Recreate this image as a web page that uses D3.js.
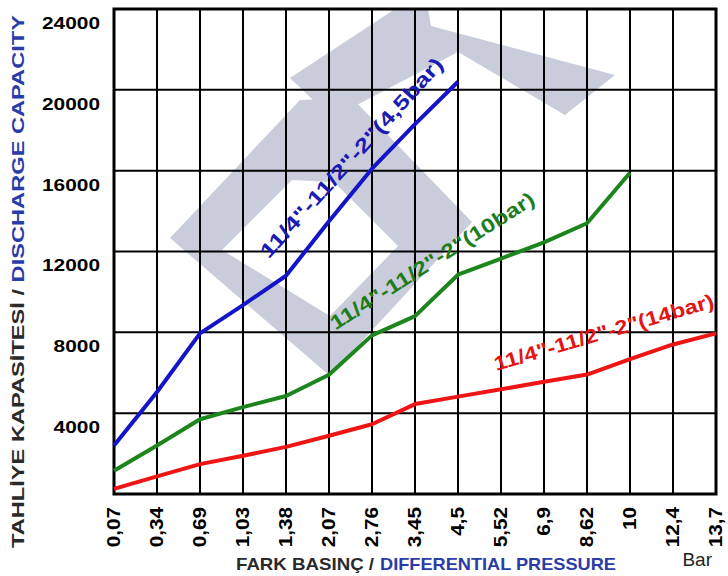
<!DOCTYPE html>
<html>
<head>
<meta charset="utf-8">
<script src="https://cdn.jsdelivr.net/npm/d3@7"></script>
<style>
  body { margin: 0; background: #fff; }
  svg { display: block; font-family: "Liberation Sans", Arial, sans-serif; }
</style>
</head>
<body>
<div id="chart"></div>
<script>
'use strict'

// pressure categories on the x axis (bar)
let pressureLbl = ['0,07','0,34','0,69','1,03','1,38','2,07','2,76','3,45','4,5','5,52','6,9','8,62','10','12,4','13,7'];
let capTicks = [4000, 8000, 12000, 16000, 20000, 24000];

// discharge capacity per series
let cap45 = [2400, 5050, 7950, 9350, 10800, 13500, 16100, 18300, 20400];
let cap10 = [1150, 2400, 3700, 4300, 4850, 5900, 7850, 8800, 10850, 11650, 12450, 13400, 15900];
let cap14 = [250, 870, 1480, 1890, 2330, 2880, 3450, 4450, 4820, 5180, 5550, 5910, 6680, 7400, 7950];

let seriesName = ['11/4"-11/2"-2"(4,5bar)', '11/4"-11/2"-2"(10bar)', '11/4"-11/2"-2"(14bar)'];
let seriesColor = ['#1414c8', '#1c861c', '#ee1515'];
let labelColor = ['#1a1ab4', '#1d7d1d', '#e41414'];

var W = 728, H = 576;
var margin = {top: 9, right: 12, bottom: 82, left: 114};
var plotW = W - margin.left - margin.right,
    plotH = H - margin.top - margin.bottom;

var svg = d3.select('#chart').append('svg')
    .attr('width', W)
    .attr('height', H);

var x = d3.scalePoint().domain(d3.range(pressureLbl.length)).range([0, plotW]);
var xi = d3.scaleLinear().domain([0, pressureLbl.length - 1]).range([0, plotW]);
var y = d3.scaleLinear().domain([0, 24000]).range([plotH, 0]);

// ####### watermark (light logo behind the grid, page pixels) #######
var wm = svg.append('g').attr('fill', '#c9ccda').attr('fill-rule', 'evenodd');
var wmShapes = [
  // rotated "D" ring: outer then inner hole
  'M170,238 L300,100 L352,98 L472,222 L330,376 Z M222,250 L292,180 L334,182 L398,246 L330,316 Z',
  // arrow at the top
  'M290,78 L395,9 L428,9 L431,26 L615,75 L565,115 L458,52 L332,118 Z'
];
wm.selectAll('path').data(wmShapes).enter().append('path')
    .attr('d', function(d) { return d; });

var g = svg.append('g')
    .attr('transform', 'translate(' + margin.left + ',' + margin.top + ')');

// ####### grid #######
g.append('g').selectAll('line.v')
    .data(d3.range(pressureLbl.length))
    .enter().append('line')
    .attr('x1', function(d) { return x(d); })
    .attr('x2', function(d) { return x(d); })
    .attr('y1', 0).attr('y2', plotH)
    .attr('stroke', '#000').attr('stroke-width', 2);

g.append('g').selectAll('line.h')
    .data([0].concat(capTicks))
    .enter().append('line')
    .attr('x1', 0).attr('x2', plotW)
    .attr('y1', function(d) { return y(d); })
    .attr('y2', function(d) { return y(d); })
    .attr('stroke', '#000').attr('stroke-width', 2);

g.append('rect')
    .attr('width', plotW).attr('height', plotH)
    .attr('fill', 'none').attr('stroke', '#000').attr('stroke-width', 3);

// ####### curves #######
var line = d3.line()
    .x(function(d, i) { return x(i); })
    .y(function(d) { return y(d); });

g.selectAll('path.curve')
    .data([cap45, cap10, cap14])
    .enter().append('path')
    .attr('class', 'curve')
    .attr('d', line)
    .attr('fill', 'none')
    .attr('stroke', function(d, i) { return seriesColor[i]; })
    .attr('stroke-width', 4)
    .attr('stroke-linejoin', 'round');

// curve labels: start point (grid index, capacity), angle, length
var labelPos = [
  {ix: 3.6, v: 11600, ang: -47.9, len: 262},
  {ix: 5.15, v: 8090, ang: -32.4, len: 238},
  {ix: 8.89, v: 6090, ang: -16.3, len: 228}
];
g.selectAll('text.curveLbl')
    .data(labelPos)
    .enter().append('text')
    .attr('class', 'curveLbl')
    .attr('transform', function(d) { return 'translate(' + xi(d.ix) + ',' + y(d.v) + ') rotate(' + d.ang + ')'; })
    .attr('textLength', function(d) { return d.len; })
    .attr('lengthAdjust', 'spacingAndGlyphs')
    .attr('font-size', 20)
    .attr('font-weight', 'bold')
    .attr('fill', function(d, i) { return labelColor[i]; })
    .text(function(d, i) { return seriesName[i]; });

// ####### axes labels #######
g.selectAll('text.yLbl')
    .data(capTicks)
    .enter().append('text')
    .attr('x', -14)
    .attr('y', function(d) { return y(d) + 14; })
    .attr('dy', '0.35em')
    .attr('text-anchor', 'end')
    .attr('font-size', 17)
    .attr('font-weight', 'bold')
    .attr('textLength', function(d) { return String(d).length * 11.6; })
    .attr('lengthAdjust', 'spacingAndGlyphs')
    .text(function(d) { return d; });

g.selectAll('text.xLbl')
    .data(pressureLbl)
    .enter().append('text')
    .attr('class', 'xLbl')
    .attr('transform', function(d, i) { return 'translate(' + x(i) + ',' + (plotH + 13) + ') rotate(-90)'; })
    .attr('dy', '0.35em')
    .attr('text-anchor', 'end')
    .attr('font-size', 18)
    .attr('font-weight', 'bold')
    .text(function(d) { return d; })
    .each(function() {
      d3.select(this).attr('textLength', this.getComputedTextLength() * 1.15)
        .attr('lengthAdjust', 'spacingAndGlyphs');
    });

// y title
var yT = svg.append('text')
    .attr('transform', 'translate(24,548) rotate(-90)')
    .attr('font-size', 17)
    .attr('font-weight', 'bold')
    .attr('textLength', 533)
    .attr('lengthAdjust', 'spacingAndGlyphs');
yT.append('tspan').attr('fill', '#2a2a2a').text('TAHLİYE KAPASİTESİ / ');
yT.append('tspan').attr('fill', '#2a3ca8').text('DISCHARGE CAPACITY');

// x title, two parts
svg.append('text')
    .attr('x', 236).attr('y', 570)
    .attr('font-size', 17)
    .attr('font-weight', 'bold')
    .attr('fill', '#2a2a2a')
    .attr('textLength', 138)
    .attr('lengthAdjust', 'spacingAndGlyphs')
    .text('FARK BASINÇ /');
svg.append('text')
    .attr('x', 380).attr('y', 570)
    .attr('font-size', 17)
    .attr('font-weight', 'bold')
    .attr('fill', '#2a3ca8')
    .attr('textLength', 236)
    .attr('lengthAdjust', 'spacingAndGlyphs')
    .text('DIFFERENTIAL PRESSURE');

svg.append('text')
    .attr('x', 712).attr('y', 566)
    .attr('text-anchor', 'end')
    .attr('font-size', 19)
    .attr('fill', '#222')
    .text('Bar');
</script>
</body>
</html>
